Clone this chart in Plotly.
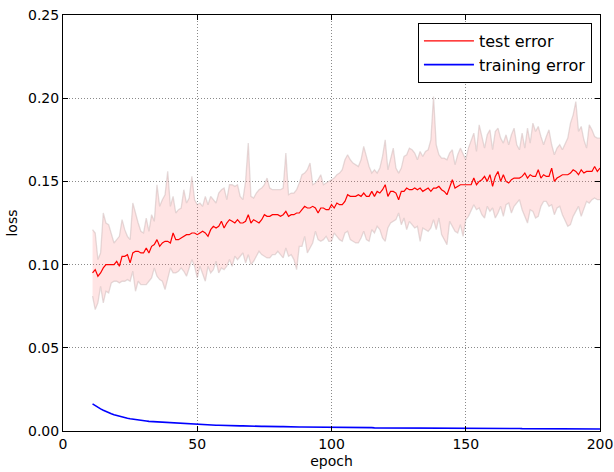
import plotly.graph_objects as go

epochs = list(range(11, 201))

test_mean = [
    0.095, 0.097, 0.093, 0.095, 0.098, 0.100, 0.100, 0.100, 0.100, 0.102,
    0.099, 0.105, 0.105, 0.106, 0.101, 0.107, 0.108, 0.108, 0.107, 0.107,
    0.110, 0.107, 0.111, 0.112, 0.115, 0.111, 0.113, 0.114, 0.114, 0.113,
    0.119, 0.115, 0.115, 0.116, 0.117, 0.118, 0.118, 0.119, 0.119,
    0.118, 0.119, 0.120, 0.119, 0.117, 0.121, 0.123, 0.122, 0.123, 0.126,
    0.122, 0.125, 0.127, 0.126, 0.125, 0.127, 0.125, 0.125, 0.126, 0.130,
    0.125, 0.127, 0.126, 0.125, 0.127, 0.130, 0.129, 0.129, 0.130, 0.130,
    0.130, 0.129, 0.130, 0.132, 0.129, 0.130, 0.130, 0.131,
    0.131, 0.133, 0.135, 0.134, 0.134, 0.135, 0.134, 0.131, 0.134, 0.134,
    0.133, 0.133, 0.136, 0.134, 0.137, 0.136, 0.136, 0.138, 0.142, 0.141,
    0.141, 0.141, 0.142, 0.141, 0.143, 0.141, 0.141, 0.144, 0.141, 0.144,
    0.143, 0.145, 0.148, 0.141, 0.144, 0.144, 0.143, 0.139, 0.144,
    0.144, 0.146, 0.145, 0.145, 0.146, 0.145, 0.146, 0.144, 0.145, 0.146,
    0.144, 0.146, 0.146, 0.147, 0.145, 0.144, 0.142, 0.147, 0.151, 0.146,
    0.147, 0.148, 0.148, 0.148, 0.148, 0.148, 0.152, 0.148, 0.150, 0.151,
    0.153, 0.150, 0.154, 0.147, 0.153, 0.156, 0.150, 0.154, 0.150,
    0.149, 0.151, 0.152, 0.152, 0.152, 0.153, 0.155, 0.152, 0.154, 0.153,
    0.153, 0.157, 0.152, 0.154, 0.153, 0.153, 0.158, 0.150, 0.152, 0.153,
    0.154, 0.154, 0.154, 0.155, 0.157, 0.156, 0.154, 0.157, 0.155, 0.156,
    0.156, 0.156, 0.159, 0.156, 0.158,
]

test_upper = [
    0.121, 0.119, 0.103, 0.107, 0.131, 0.125, 0.124, 0.118, 0.113, 0.115,
    0.117, 0.127, 0.121, 0.117, 0.115, 0.137, 0.130, 0.125, 0.120, 0.119,
    0.128, 0.120, 0.130, 0.126, 0.148, 0.135, 0.139, 0.142, 0.156, 0.135,
    0.141, 0.131, 0.133, 0.134, 0.145, 0.137, 0.140, 0.153, 0.139,
    0.136, 0.137, 0.135, 0.141, 0.136, 0.141, 0.139, 0.137, 0.143, 0.145,
    0.146, 0.139, 0.148, 0.148, 0.147, 0.148, 0.141, 0.139, 0.150, 0.173,
    0.141, 0.140, 0.143, 0.145, 0.146, 0.148, 0.152, 0.146, 0.145, 0.145,
    0.145, 0.145, 0.146, 0.167, 0.142, 0.143, 0.143, 0.145,
    0.149, 0.154, 0.155, 0.157, 0.161, 0.148, 0.149, 0.151, 0.154, 0.148,
    0.149, 0.150, 0.151, 0.152, 0.154, 0.155, 0.157, 0.163, 0.166, 0.163,
    0.161, 0.160, 0.159, 0.163, 0.171, 0.165, 0.159, 0.155, 0.157, 0.155,
    0.158, 0.165, 0.175, 0.157, 0.163, 0.170, 0.158, 0.155, 0.158,
    0.165, 0.166, 0.170, 0.169, 0.167, 0.163, 0.168, 0.165, 0.168, 0.169,
    0.175, 0.201, 0.172, 0.166, 0.164, 0.164, 0.163, 0.167, 0.169, 0.160,
    0.166, 0.170, 0.166, 0.163, 0.170, 0.174, 0.179, 0.168, 0.184, 0.177,
    0.170, 0.178, 0.181, 0.169, 0.180, 0.182, 0.176, 0.173, 0.178,
    0.172, 0.178, 0.182, 0.172, 0.169, 0.179, 0.170, 0.182, 0.173, 0.185,
    0.180, 0.183, 0.177, 0.172, 0.177, 0.181, 0.172, 0.166, 0.170, 0.172,
    0.169, 0.173, 0.176, 0.185, 0.190, 0.198, 0.180, 0.183, 0.175, 0.170,
    0.184, 0.181, 0.177, 0.176, 0.176,
]

test_lower = [
    0.081, 0.073, 0.077, 0.087, 0.077, 0.084, 0.083, 0.089, 0.090, 0.090,
    0.089, 0.090, 0.090, 0.091, 0.090, 0.096, 0.084, 0.090, 0.088, 0.088,
    0.088, 0.090, 0.092, 0.098, 0.093, 0.091, 0.090, 0.085, 0.091, 0.098,
    0.095, 0.095, 0.096, 0.098, 0.096, 0.093, 0.098, 0.103, 0.099,
    0.092, 0.099, 0.094, 0.090, 0.099, 0.095, 0.097, 0.102, 0.095, 0.098,
    0.097, 0.099, 0.103, 0.099, 0.105, 0.103, 0.105, 0.107, 0.101, 0.106,
    0.100, 0.102, 0.105, 0.108, 0.106, 0.105, 0.104, 0.104, 0.106, 0.106,
    0.108, 0.106, 0.104, 0.110, 0.105, 0.106, 0.103, 0.097,
    0.111, 0.111, 0.117, 0.107, 0.110, 0.113, 0.120, 0.115, 0.114, 0.115,
    0.117, 0.114, 0.114, 0.119, 0.117, 0.115, 0.114, 0.119, 0.120, 0.115,
    0.114, 0.113, 0.113, 0.116, 0.120, 0.115, 0.114, 0.121, 0.119, 0.123,
    0.121, 0.116, 0.114, 0.122, 0.125, 0.126, 0.127, 0.131, 0.124,
    0.128, 0.121, 0.126, 0.124, 0.122, 0.123, 0.114, 0.122, 0.121, 0.120,
    0.122, 0.127, 0.121, 0.128, 0.118, 0.115, 0.112, 0.126, 0.123, 0.120,
    0.119, 0.124, 0.117, 0.127, 0.129, 0.133, 0.136, 0.133, 0.134, 0.130,
    0.128, 0.135, 0.132, 0.134, 0.128, 0.131, 0.135, 0.129, 0.136,
    0.137, 0.131, 0.135, 0.137, 0.139, 0.133, 0.129, 0.125, 0.133, 0.132,
    0.128, 0.129, 0.135, 0.138, 0.138, 0.135, 0.136, 0.130, 0.134, 0.135,
    0.130, 0.126, 0.123, 0.124, 0.129, 0.132, 0.135, 0.129, 0.134, 0.138,
    0.137, 0.139, 0.140, 0.139, 0.139,
]

train_error = [
    0.0163, 0.0152, 0.0142, 0.0133, 0.0125, 0.0117, 0.0110, 0.0104, 0.0098, 0.0093,
    0.0088, 0.0084, 0.0080, 0.0077, 0.0074, 0.0071, 0.0068, 0.0066, 0.0064, 0.0062,
    0.0060, 0.0058, 0.0057, 0.0055, 0.0054, 0.0053, 0.0051, 0.0050, 0.0049, 0.0048,
    0.0047, 0.0046, 0.0045, 0.0044, 0.0043, 0.0042, 0.0042, 0.0041, 0.0040, 0.0040,
    0.0039, 0.0038, 0.0038, 0.0037, 0.0036, 0.0036, 0.0035, 0.0035, 0.0034, 0.0034,
    0.0033, 0.0033, 0.0032, 0.0032, 0.0031, 0.0031, 0.0031, 0.0030, 0.0030, 0.0029,
    0.0029, 0.0029, 0.0028, 0.0028, 0.0028, 0.0027, 0.0027, 0.0027, 0.0026, 0.0026,
    0.0026, 0.0026, 0.0025, 0.0025, 0.0025, 0.0025, 0.0024, 0.0024, 0.0024, 0.0024,
    0.0023, 0.0023, 0.0023, 0.0023, 0.0023, 0.0022, 0.0022, 0.0022, 0.0022, 0.0022,
    0.0021, 0.0021, 0.0021, 0.0021, 0.0021, 0.0021, 0.0020, 0.0020, 0.0020, 0.0020,
    0.0020, 0.0020, 0.0020, 0.0020, 0.0020, 0.0019, 0.0019, 0.0019, 0.0019, 0.0019,
    0.0019, 0.0019, 0.0019, 0.0019, 0.0018, 0.0018, 0.0018, 0.0018, 0.0018, 0.0018,
    0.0018, 0.0018, 0.0018, 0.0018, 0.0017, 0.0017, 0.0017, 0.0017, 0.0017, 0.0017,
    0.0017, 0.0017, 0.0017, 0.0017, 0.0017, 0.0016, 0.0016, 0.0016, 0.0016, 0.0016,
    0.0016, 0.0016, 0.0016, 0.0016, 0.0016, 0.0016, 0.0016, 0.0016, 0.0015, 0.0015,
    0.0015, 0.0015, 0.0015, 0.0015, 0.0015, 0.0015, 0.0015, 0.0015, 0.0015, 0.0015,
    0.0014, 0.0014, 0.0014, 0.0014, 0.0014, 0.0014, 0.0014, 0.0014, 0.0014, 0.0014,
    0.0014, 0.0014, 0.0014, 0.0014, 0.0014, 0.0013, 0.0013, 0.0013, 0.0013, 0.0013,
    0.0013, 0.0013, 0.0013, 0.0013, 0.0013, 0.0012, 0.0012, 0.0012, 0.0012, 0.0012,
]

x_ticks = [0, 50, 100, 150, 200]
y_ticks = [0.00, 0.05, 0.10, 0.15, 0.20, 0.25]

band_fill = "rgba(255, 120, 120, 0.2)"
band_edge = "rgba(190, 170, 170, 0.4)"

fig = go.Figure()
fig.add_trace(go.Scatter(
    x=epochs, y=test_upper, mode="lines",
    line=dict(color=band_edge, width=1.3), showlegend=False, hoverinfo="skip",
))
fig.add_trace(go.Scatter(
    x=epochs, y=test_lower, mode="lines", fill="tonexty", fillcolor=band_fill,
    line=dict(color=band_edge, width=1.3), showlegend=False, hoverinfo="skip",
))
fig.add_trace(go.Scatter(
    x=epochs, y=test_mean, mode="lines", name="test error", legendgroup="a",
    line=dict(color="#ff0000", width=1.2),
))
fig.add_trace(go.Scatter(
    x=epochs, y=train_error, mode="lines", name="training error", legendgroup="b",
    line=dict(color="#0000ff", width=1.6),
))

axis_common = dict(
    showline=True, linecolor="black", linewidth=1, mirror="ticks",
    ticks="inside", ticklen=5, tickcolor="black", tickwidth=1,
    showgrid=True, gridcolor="#8a8a8a", griddash="1px,2px", gridwidth=1,
    zeroline=False, automargin=False,
    tickfont=dict(family="DejaVu Sans", size=14, color="black"),
)

fig.update_xaxes(
    range=[0, 200], tickvals=x_ticks, ticktext=[str(v) for v in x_ticks],
    title=dict(text="epoch", font=dict(family="DejaVu Sans", size=14, color="black"), standoff=5),
    **axis_common,
)
fig.update_yaxes(
    range=[0, 0.25], tickvals=y_ticks, ticktext=[f"{v:.2f}" for v in y_ticks],
    title=dict(text="loss", font=dict(family="DejaVu Sans", size=14, color="black"), standoff=7),
    **axis_common,
)

fig.update_layout(
    width=614, height=472,
    margin=dict(l=63, r=14, t=15, b=41),
    paper_bgcolor="white", plot_bgcolor="white",
    font=dict(family="DejaVu Sans", color="black"),
    legend=dict(
        x=0.985, y=0.981, xanchor="right", yanchor="top",
        bgcolor="white", bordercolor="black", borderwidth=1,
        font=dict(family="DejaVu Sans", size=16, color="black"),
        itemwidth=50, traceorder="normal", tracegroupgap=4,
    ),
)

fig.write_html(
    "out.html",
    config={"displayModeBar": False},
    post_script="document.body.style.margin='0';document.body.style.overflow='hidden';",
)
